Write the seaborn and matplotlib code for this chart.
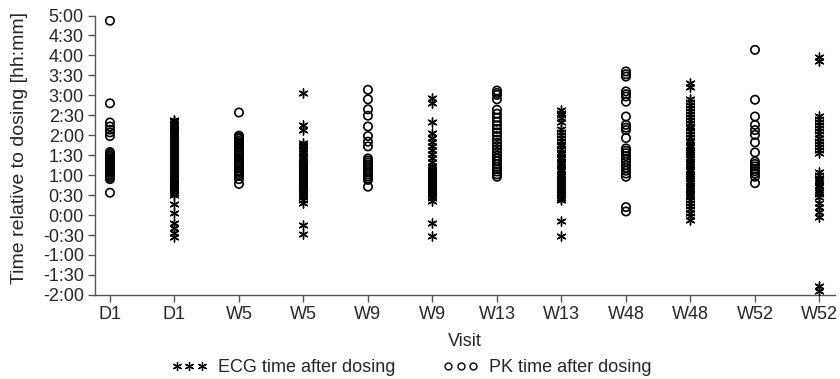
import matplotlib
matplotlib.use("Agg")
import matplotlib.pyplot as plt
from matplotlib.lines import Line2D
import seaborn as sns
import pandas as pd

visits = ["D1", "D1", "W5", "W5", "W9", "W9", "W13", "W13", "W48", "W48", "W52", "W52"]
kinds = ["PK", "ECG", "PK", "ECG", "PK", "ECG", "PK", "ECG", "PK", "ECG", "PK", "ECG"]

# time relative to dosing, hours
pk_d1 = [4.87, 2.80, 2.32, 2.22, 2.14, 2.07, 1.98, 1.58, 1.54, 1.50, 1.46, 1.42, 1.38, 1.35,
         1.31, 1.27, 1.24, 1.20, 1.17, 1.13, 1.10, 1.06, 1.02, 0.98, 0.94, 0.90, 0.56]
ecg_d1 = [2.39, 2.35, 2.30, 2.25, 2.21, 2.16, 2.12, 2.08, 2.03, 1.98, 1.93, 1.88, 1.83, 1.78,
          1.73, 1.68, 1.62, 1.57, 1.52, 1.47, 1.42, 1.38, 1.33, 1.28, 1.23, 1.18, 1.13, 1.08,
          1.03, 0.98, 0.93, 0.88, 0.84, 0.80, 0.76, 0.72, 0.68, 0.64, 0.60, 0.55, 0.50, 0.28,
          0.05, -0.20, -0.32, -0.45, -0.55]
pk_w5 = [2.57, 1.99, 1.95, 1.91, 1.86, 1.82, 1.78, 1.74, 1.69, 1.64, 1.60, 1.55, 1.50, 1.45,
         1.41, 1.36, 1.31, 1.27, 1.22, 1.17, 1.12, 1.08, 1.03, 0.98, 0.90, 0.78]
ecg_w5 = [3.05, 2.26, 2.14, 1.80, 1.76, 1.72, 1.66, 1.60, 1.55, 1.49, 1.43, 1.38, 1.33, 1.28,
          1.24, 1.20, 1.15, 1.11, 1.07, 1.03, 0.99, 0.95, 0.91, 0.87, 0.83, 0.79, 0.75, 0.70,
          0.65, 0.60, 0.55, 0.50, 0.44, 0.38, 0.31, -0.25, -0.47]
pk_w9 = [3.14, 2.90, 2.65, 2.49, 2.22, 1.98, 1.84, 1.72, 1.42, 1.37, 1.32, 1.27, 1.22, 1.17,
         1.12, 1.07, 1.02, 0.97, 0.92, 0.88, 0.71]
ecg_w9 = [2.93, 2.80, 2.34, 2.05, 1.93, 1.82, 1.72, 1.62, 1.52, 1.42, 1.33, 1.24, 1.20, 1.16,
          1.12, 1.08, 1.04, 1.00, 0.96, 0.92, 0.88, 0.84, 0.80, 0.76, 0.72, 0.68, 0.64, 0.60,
          0.56, 0.52, 0.47, 0.42, 0.36, -0.20, -0.52]
pk_w13 = [3.12, 3.06, 3.01, 2.90, 2.64, 2.54, 2.44, 2.34, 2.25, 2.16, 2.07, 1.98, 1.89, 1.81,
          1.73, 1.65, 1.57, 1.49, 1.42, 1.35, 1.28, 1.21, 1.15, 1.09, 1.02, 0.96]
ecg_w13 = [2.64, 2.57, 2.50, 2.42, 2.32, 2.16, 2.08, 2.00, 1.93, 1.86, 1.79, 1.72, 1.65, 1.58,
           1.52, 1.46, 1.40, 1.34, 1.28, 1.22, 1.16, 1.10, 1.04, 0.98, 0.93, 0.88, 0.83, 0.78,
           0.73, 0.68, 0.63, 0.58, 0.53, 0.48, 0.43, 0.38, -0.16, -0.52]
pk_w48 = [3.60, 3.53, 3.47, 3.10, 3.03, 2.97, 2.84, 2.47, 2.26, 2.19, 2.13, 1.93, 1.67, 1.61,
          1.55, 1.48, 1.40, 1.33, 1.25, 1.18, 1.11, 1.04, 0.96, 0.20, 0.09]
ecg_w48 = [3.30, 3.20, 2.90, 2.83, 2.76, 2.68, 2.60, 2.53, 2.46, 2.38, 2.31, 2.24, 2.17, 2.10,
           2.03, 1.96, 1.89, 1.82, 1.76, 1.70, 1.64, 1.58, 1.52, 1.46, 1.40, 1.34, 1.28, 1.22,
           1.16, 1.10, 1.04, 0.98, 0.92, 0.86, 0.80, 0.74, 0.68, 0.62, 0.56, 0.50, 0.44, 0.38,
           0.30, 0.22, 0.14, 0.06, -0.03, -0.12]
pk_w52 = [4.14, 2.89, 2.47, 2.26, 2.13, 2.01, 1.82, 1.57, 1.34, 1.28, 1.22, 1.16, 1.10, 1.04,
          0.96, 0.80]
ecg_w52 = [3.97, 3.87, 2.47, 2.40, 2.33, 2.26, 2.18, 2.10, 2.02, 1.94, 1.86, 1.78, 1.70, 1.62,
           1.55, 1.07, 1.00, 0.94, 0.88, 0.82, 0.76, 0.70, 0.64, 0.58, 0.52, 0.46, 0.30, 0.19,
           0.08, -0.04, -1.79, -1.90]

series = [pk_d1, ecg_d1, pk_w5, ecg_w5, pk_w9, ecg_w9, pk_w13, ecg_w13, pk_w48, ecg_w48, pk_w52, ecg_w52]
yticks = [-2.0, -1.5, -1.0, -0.5, 0.0, 0.5, 1.0, 1.5, 2.0, 2.5, 3.0, 3.5, 4.0, 4.5, 5.0]

slots = [f"s{i}" for i in range(len(visits))]
rows = []
for slot, kind, vals in zip(slots, kinds, series):
    for v in vals:
        rows.append({"slot": slot, "kind": kind, "hours": v})
df = pd.DataFrame(rows)

sns.set_style("white")
plt.rcParams["font.family"] = ["Liberation Sans", "DejaVu Sans"]

fig = plt.figure(figsize=(8.4, 3.79), dpi=100)
ax = fig.add_axes([0.113, 0.222, 0.881, 0.737])

n0 = len(ax.collections)
sns.stripplot(data=df[df.kind == "PK"], x="slot", y="hours", order=slots, jitter=False,
              marker="o", size=6, color="black", linewidth=1.2, edgecolor="black", ax=ax)
for coll in ax.collections[n0:]:
    coll.set_facecolor("none")
    coll.set_edgecolor("black")
sns.stripplot(data=df[df.kind == "ECG"], x="slot", y="hours", order=slots, jitter=False,
              marker=(6, 2, 0), size=6.5, color="black", linewidth=1.0, edgecolor="black", ax=ax)

ax.set_xlim(-0.233, 11.24)
ax.set_ylim(-2.0, 5.0)
ax.set_xticks(range(len(visits)))
ax.set_xticklabels(visits, fontsize=13)


def fmt(h):
    sign = "-" if h < 0 else ""
    m = int(round(abs(h) * 60))
    return f"{sign}{m // 60}:{m % 60:02d}"


ax.set_yticks(yticks)
ax.set_yticklabels([fmt(t) for t in yticks], fontsize=13)
ax.set_xlabel("Visit", fontsize=13, labelpad=7)
ax.set_ylabel("Time relative to dosing [hh:mm]", fontsize=14)
ax.yaxis.set_label_coords(-0.091, 0.525)

for s in ["top", "right"]:
    ax.spines[s].set_visible(False)
for s in ["left", "bottom"]:
    ax.spines[s].set_color("#555555")
    ax.spines[s].set_linewidth(1.0)
ax.tick_params(axis="both", direction="out", length=5, width=1.0, color="#555555",
               left=True, bottom=True, pad=3)

handles = [
    Line2D([], [], linestyle="none", marker=(6, 2, 0), color="black", markersize=6.5,
           markeredgewidth=0.9),
    Line2D([], [], linestyle="none", marker="o", markerfacecolor="none",
           markeredgecolor="black", markersize=5, markeredgewidth=1.0),
]
fig.legend(handles, ["ECG time after dosing", "PK time after dosing"], loc="lower center",
           bbox_to_anchor=(0.49, -0.035), ncol=2, frameon=False, numpoints=3,
           handlelength=2.0, handletextpad=0.6, columnspacing=2.6, fontsize=13)

fig.savefig("out.png", dpi=100)
